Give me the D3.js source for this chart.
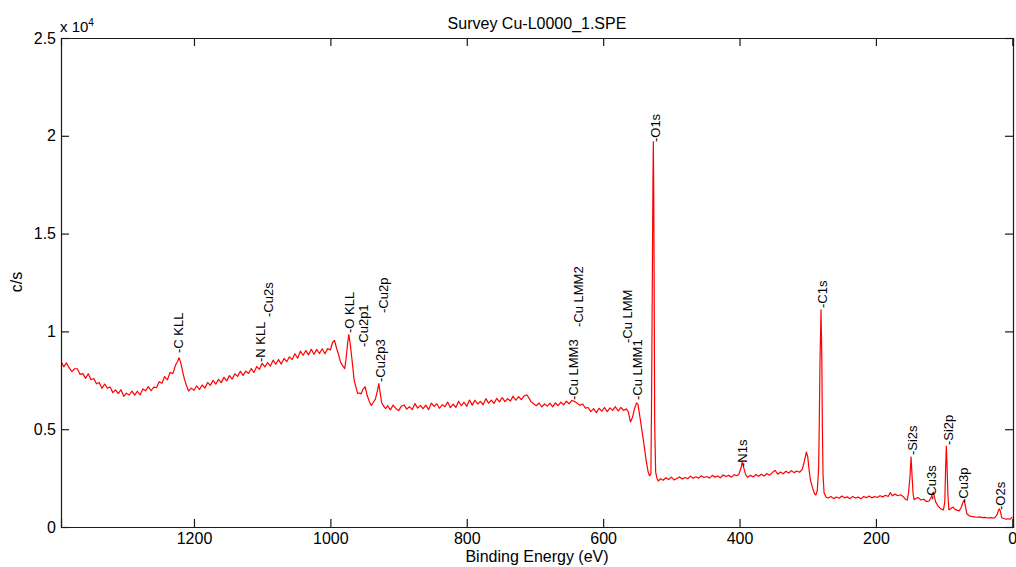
<!DOCTYPE html>
<html>
<head>
<meta charset="utf-8">
<script src="https://cdn.jsdelivr.net/npm/d3@7"></script>
<style>
  body { margin: 0; background: #fff; }
  svg { display: block; }
  text { font-family: "Liberation Sans", Arial, Helvetica, sans-serif; fill: #000; }
</style>
</head>
<body>
<svg></svg>
<script>
const margin = {t: 38, r: 3, b: 40, l: 61};
const size = {w: 1016, h: 567};
const svg = d3.select('svg');

svg.attr('width', size.w)
    .attr('height', size.h);

// spectrum, [binding energy eV, counts/s]
const augerRegion = [
    [1395, 8474], [1391, 8190], [1387, 8390], [1383, 8130], [1379, 7940], [1375, 8090], [1371, 8090], [1367, 7800],
    [1363, 7840], [1359, 7600], [1355, 7838], [1351, 7530], [1347, 7590], [1343, 7320], [1339, 7390], [1335, 7090],
    [1331, 7310], [1327, 7100], [1323, 7160], [1319, 6870], [1315, 7010], [1311, 6820], [1307, 7020], [1303, 6680],
    [1299, 6840], [1295, 6750], [1291, 6950], [1287, 6740], [1283, 6940], [1279, 6750], [1275, 7060], [1271, 6960],
    [1267, 7180], [1263, 6965], [1259, 7155], [1255, 7120], [1251, 7430], [1247, 7350], [1243, 7690], [1239, 7520],
    [1235, 7910], [1231, 7840], [1227, 8280], [1224, 8460], [1222, 8660], [1220, 8480], [1217, 8010], [1214, 7560],
    [1211, 7230], [1208, 6950], [1204, 7100], [1200, 6990], [1196, 7210], [1192, 7030], [1188, 7260], [1184, 7100],
    [1180, 7390], [1176, 7240], [1172, 7500], [1168, 7300], [1164, 7550], [1160, 7380], [1156, 7650], [1152, 7470],
    [1148, 7740], [1144, 7560], [1140, 7830], [1136, 7700], [1132, 7960], [1128, 7750], [1124, 7970], [1120, 7850],
    [1116, 8100], [1112, 7900], [1108, 8200], [1104, 8060], [1100, 8370], [1096, 8190], [1092, 8410], [1088, 8230],
    [1084, 8530], [1080, 8320], [1076, 8560], [1072, 8330], [1068, 8620], [1064, 8450], [1060, 8700], [1056, 8560],
    [1052, 8860], [1048, 8630], [1044, 8990], [1040, 8780], [1036, 9020], [1032, 8800], [1028, 9090], [1024, 8830],
    [1020, 9080], [1016, 8870], [1012, 9110], [1008, 8860], [1004, 9120], [1000, 9050]
];

const cu2pRegion = [
    [997, 9420], [994, 9540], [991, 9150], [988, 8820], [985, 8420], [982, 8250], [979, 8100], [977, 8600],
    [975, 9300], [973, 9840], [971, 9400], [969, 8780], [967, 8120], [965, 7480], [962, 7080], [960, 6830],
    [957, 6850], [955, 6800], [952, 7050], [949, 7170], [946, 6720], [943, 6420], [940, 6210], [937, 6380],
    [934, 6540], [931, 6970], [929, 7330], [927, 6880], [925, 6380], [922, 6180], [919, 6050]
];

const valleyRegion = [
    [916, 6200], [912, 5990], [908, 6230], [904, 6060], [900, 5950], [896, 6170], [892, 6240], [888, 6030],
    [884, 6150], [880, 6000], [876, 6310], [872, 6080], [868, 6220], [864, 6050], [860, 6230], [856, 6000],
    [852, 6330], [848, 6170], [844, 6300], [840, 6070], [836, 6250], [832, 6150], [828, 6390], [824, 6100],
    [820, 6280], [816, 6110], [812, 6430], [808, 6200], [804, 6380], [800, 6170], [796, 6490], [792, 6230],
    [788, 6480], [784, 6290], [780, 6420], [776, 6250], [772, 6560], [768, 6330], [764, 6490], [760, 6320],
    [756, 6580], [752, 6400], [748, 6620], [744, 6410], [740, 6560], [736, 6440], [732, 6690], [728, 6480],
    [724, 6660], [720, 6510], [716, 6700], [712, 6760], [709, 6600], [706, 6420], [702, 6300], [698, 6200],
    [694, 6340], [690, 6140], [686, 6290], [682, 6180], [678, 6330], [674, 6140], [670, 6350], [666, 6200],
    [662, 6380], [658, 6240], [654, 6430], [650, 6300], [646, 6470], [642, 6420], [638, 6330], [634, 6220],
    [630, 6290], [626, 6080], [622, 6110], [618, 5900], [614, 6050], [610, 5850], [606, 6070], [602, 5920],
    [598, 6110], [594, 5900], [590, 6090], [586, 5960], [582, 6150], [578, 5930], [574, 6110], [570, 5960],
    [566, 6040], [563, 5880], [560, 5370], [557, 5600], [554, 6050], [551, 6340], [549, 6280], [546, 5600],
    [543, 4900], [540, 4200], [537, 3420], [534, 2810], [532, 2620], [530, 2700]
];

const o1sRegion = [
    [529, 6500], [528, 12000], [527, 17500], [526.4, 19700], [525.8, 17000], [525.2, 12500], [524.4, 5200],
    [523, 2800], [521, 2480], [519, 2350], [516, 2470], [512, 2390], [508, 2520], [504, 2430], [500, 2550],
    [496, 2410], [492, 2480], [488, 2560], [484, 2450], [480, 2530], [476, 2470], [472, 2600], [468, 2490],
    [464, 2570], [460, 2500], [456, 2620], [452, 2530], [448, 2580], [444, 2500], [440, 2640], [436, 2550],
    [432, 2610], [428, 2520], [424, 2660], [420, 2580], [416, 2640], [412, 2550], [408, 2680], [404, 2620],
    [401, 2700], [398, 3000], [396, 3330], [394, 3050], [391, 2680], [388, 2540], [384, 2640], [380, 2560],
    [376, 2680], [372, 2590], [368, 2700], [364, 2610], [360, 2740], [356, 2650], [352, 2780], [348, 2900],
    [344, 2700], [340, 2810], [336, 2720], [332, 2850], [328, 2760], [324, 2880], [320, 2780], [316, 2860],
    [312, 2800], [308, 2950]
];

const c1sRegion = [
    [305, 3350], [302, 3830], [300, 3600], [298, 2900], [296, 2400], [293, 2000], [290, 1700], [288, 1640],
    [286, 1850], [284, 3000], [283, 5500], [282, 8500], [281, 10200], [280.5, 11100], [280, 10000], [279.3, 8500],
    [278.5, 5000], [277.5, 2600], [276, 1740], [273, 1520], [270, 1480]
];

const lowRegion = [
    [266, 1560], [262, 1450], [258, 1530], [254, 1470], [250, 1580], [246, 1490], [242, 1540], [238, 1450],
    [234, 1560], [230, 1480], [226, 1530], [222, 1440], [218, 1560], [214, 1500], [210, 1580], [206, 1490],
    [202, 1560], [198, 1510], [194, 1600], [190, 1540], [186, 1620], [182, 1560], [179, 1760], [176, 1600],
    [172, 1680], [168, 1600], [164, 1650], [160, 1560], [157, 1420], [154, 1380], [152, 1800], [150, 2600],
    [148.5, 3580], [147, 2600], [145.5, 1700], [144, 1400], [141, 1470], [138, 1500], [134, 1380], [130, 1420],
    [126, 1300], [122, 1330], [119, 1520], [116, 1790], [114, 1500], [112, 1250], [109, 1080], [106, 960],
    [103, 900], [101, 870], [99, 1300], [97.8, 3000], [96.8, 4140], [95.8, 3200], [94.5, 1700], [93, 880],
    [90, 950], [87, 1020], [84, 900], [81, 860], [78, 820], [75, 1000], [72.5, 1250], [70.5, 1380],
    [68.5, 1000], [66.5, 660], [63, 570], [60, 540], [56, 520], [52, 500], [48, 520], [44, 480],
    [40, 490], [36, 460], [32, 480], [28, 450], [25, 500], [22, 660], [20, 880], [19, 920],
    [17.5, 800], [15.5, 470], [12, 420], [9, 400], [6, 420], [3, 400], [1, 470], [0, 520]
];

// peak labels: name, energy, counts where the label starts
const peakNames = ['C KLL', 'N KLL', 'Cu2s', 'O KLL', 'Cu2p1', 'Cu2p', 'Cu2p3', 'Cu LMM3', 'Cu LMM2',
    'Cu LMM', 'Cu LMM1', 'O1s', 'N1s', 'C1s', 'Si2s', 'Cu3s', 'Si2p', 'Cu3p', 'O2s'];
const peakEnergies = [1223, 1103, 1091, 972, 952, 922, 927, 644, 636, 565, 550, 523, 396, 279, 147, 119, 94, 72, 18];
const peakHeights = [8895, 8435, 10735, 9917, 9200, 10940, 7412, 6490, 10224, 9406, 6490, 19680, 3067, 11195,
    3680, 1380, 4190, 1227, 870];

const xTicks = [1200, 1000, 800, 600, 400, 200, 0];
const yTicks = [0, 5000, 10000, 15000, 20000, 25000];
const yTickLabels = ['0', '0.5', '1', '1.5', '2', '2.5'];

const spectrum = [].concat(augerRegion, cu2pRegion, valleyRegion, o1sRegion, c1sRegion, lowRegion);

let plot = {
    x0: margin.l,
    x1: size.w - margin.r,
    y0: margin.t,
    y1: size.h - margin.b
};

const x = d3.scaleLinear()
    .domain([1395, -1])
    .range([plot.x0, plot.x1]);

const y = d3.scaleLinear()
    .domain([0, 25000])
    .range([plot.y1, plot.y0]);

svg.append('defs').append('clipPath')
    .attr('id', 'clip')
    .append('rect')
    .attr('x', plot.x0)
    .attr('y', plot.y0)
    .attr('width', plot.x1 - plot.x0)
    .attr('height', plot.y1 - plot.y0);

// the trace
let line = d3.line()
    .x(d => x(d[0]))
    .y(d => y(d[1]));

svg.append('path')
    .datum(spectrum)
    .attr('clip-path', 'url(#clip)')
    .attr('fill', 'none')
    .attr('stroke', '#ff0000')
    .attr('stroke-width', 1.2)
    .attr('stroke-linejoin', 'round')
    .attr('d', line);

// axes, matlab style: ticks inside, box all round
const tickLen = 8;
let axes = svg.append('g');

axes.append('g')
    .attr('transform', 'translate(0,' + plot.y1 + ')')
    .call(d3.axisBottom(x).tickValues(xTicks).tickSize(-tickLen).tickPadding(6).tickFormat(d3.format('d')));
axes.append('g')
    .attr('transform', 'translate(0,' + plot.y0 + ')')
    .call(d3.axisTop(x).tickValues(xTicks).tickSize(-tickLen).tickFormat(''));
axes.append('g')
    .attr('transform', 'translate(' + plot.x0 + ',0)')
    .call(d3.axisLeft(y).tickValues(yTicks).tickSize(-tickLen).tickPadding(5)
        .tickFormat((d, i) => yTickLabels[i]));
axes.append('g')
    .attr('transform', 'translate(' + plot.x1 + ',0)')
    .call(d3.axisRight(y).tickValues(yTicks).tickSize(-tickLen).tickFormat(''));

axes.selectAll('.domain, .tick line')
    .attr('stroke', '#1a1a1a')
    .attr('stroke-width', 1.2);
axes.selectAll('.domain').attr('fill', 'none');
axes.selectAll('text')
    .attr('fill', '#000')
    .style('font-size', '16px')
    .style('font-family', '"Liberation Sans", Arial, Helvetica, sans-serif');

// exponent
let expo = svg.append('text')
    .attr('x', plot.x0 - 1)
    .attr('y', plot.y0 - 6)
    .style('font-size', '15px')
    .text('x 10');
expo.append('tspan')
    .attr('dy', -6)
    .style('font-size', '10px')
    .text('4');

// peak names
svg.append('g')
    .selectAll('text')
    .data(peakNames)
    .enter()
    .append('text')
    .attr('transform', (d, i) => 'translate(' + x(peakEnergies[i]) + ',' + y(peakHeights[i]) + ') rotate(-90)')
    .attr('dy', '0.35em')
    .style('font-size', '13px')
    .text(d => '-' + d);

// titles
svg.append('text')
    .attr('x', 537)
    .attr('y', 29)
    .attr('text-anchor', 'middle')
    .style('font-size', '16px')
    .text('Survey Cu-L0000_1.SPE');

svg.append('text')
    .attr('x', 537)
    .attr('y', 562)
    .attr('text-anchor', 'middle')
    .style('font-size', '16px')
    .text('Binding Energy (eV)');

svg.append('text')
    .attr('transform', 'translate(22,282) rotate(-90)')
    .attr('text-anchor', 'middle')
    .style('font-size', '16px')
    .text('c/s');
</script>
</body>
</html>
